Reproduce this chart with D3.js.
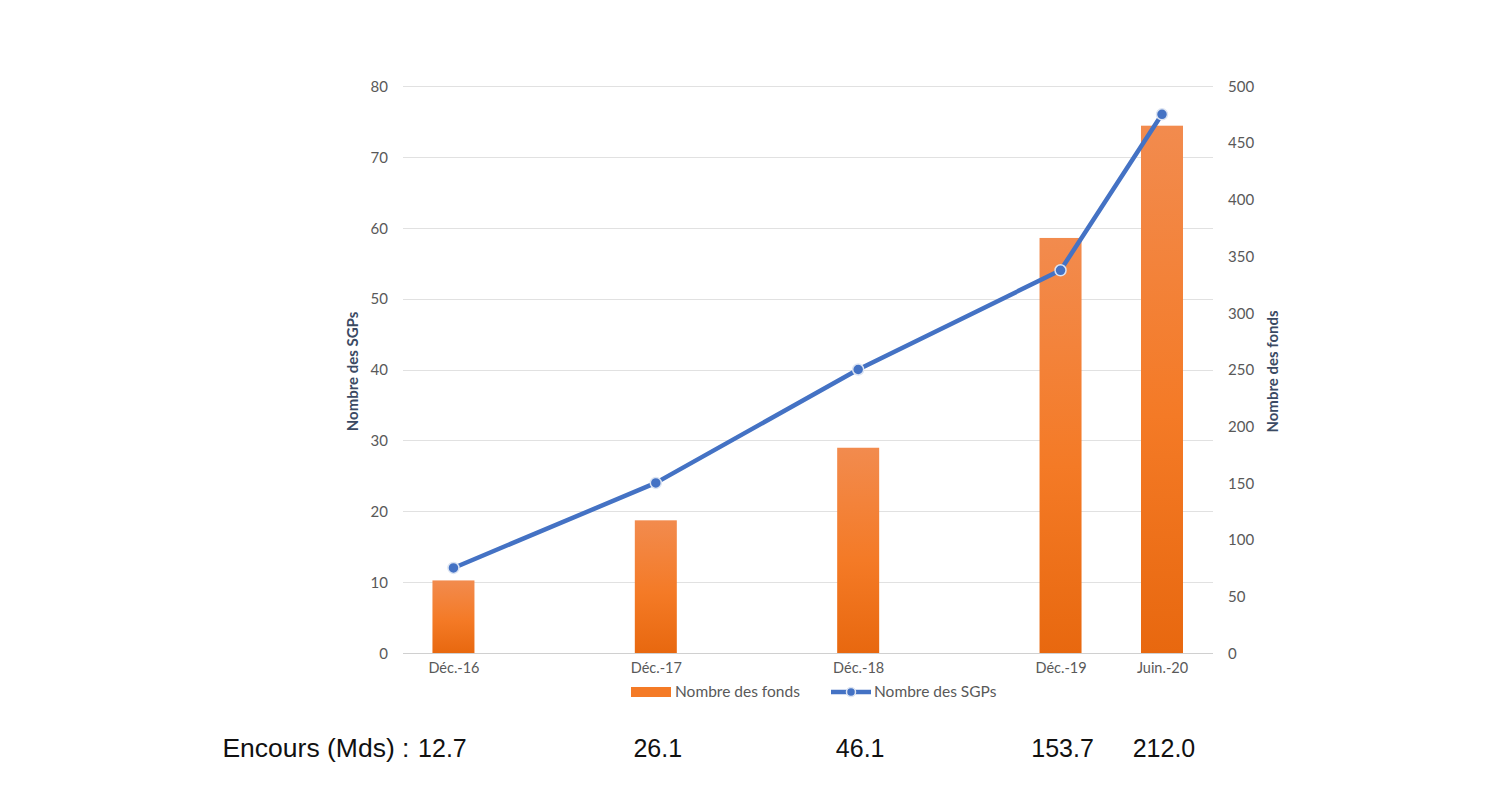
<!DOCTYPE html>
<html>
<head>
<meta charset="utf-8">
<script src="https://cdn.jsdelivr.net/npm/d3@7"></script>
<style>
  html, body { margin: 0; padding: 0; background: #ffffff; }
  svg { display: block; }
</style>
</head>
<body>
<svg id="chart" width="1500" height="800"></svg>
<script>
// ---- data ----
const categories = ["Déc.-16", "Déc.-17", "Déc.-18", "Déc.-19", "Juin.-20"];
const dates = ["2016-12-01", "2017-12-01", "2018-12-01", "2019-12-01", "2020-06-01"];
const nombreFonds = [64, 117, 181, 366, 465];   // bars, right axis
const nombreSGPs = [12, 24, 40, 54, 76];        // line, left axis
const encours = ["12.7", "26.1", "46.1", "153.7", "212.0"];
const leftTicks = [0, 10, 20, 30, 40, 50, 60, 70, 80];
const rightTicks = [0, 50, 100, 150, 200, 250, 300, 350, 400, 450, 500];
const seriesNames = ["Nombre des fonds", "Nombre des SGPs"];
const leftTitle = "Nombre des SGPs";
const rightTitle = "Nombre des fonds";
const encoursLabel = "Encours (Mds) :";

// ---- layout ----
const svg = d3.select("#chart");
const plot = { left: 403, right: 1213, top: 86, bottom: 653 };
const parse = d3.timeParse("%Y-%m-%d");
const dts = dates.map(parse);

const x = d3.scaleTime()
  .domain([d3.timeMonth.offset(d3.min(dts), -3), d3.timeMonth.offset(d3.max(dts), 3)])
  .range([plot.left, plot.right]);
const yL = d3.scaleLinear().domain([0, 80]).range([plot.bottom, plot.top]);
const yR = d3.scaleLinear().domain([0, 500]).range([plot.bottom, plot.top]);

const defs = svg.append("defs");
const grad = defs.append("linearGradient").attr("id", "barGrad")
  .attr("x1", 0).attr("y1", 0).attr("x2", 0).attr("y2", 1);
grad.append("stop").attr("offset", "0%").attr("stop-color", "#F28B4E");
grad.append("stop").attr("offset", "55%").attr("stop-color", "#F47A26");
grad.append("stop").attr("offset", "100%").attr("stop-color", "#E8680F");

const tickFont = "Lato, 'Open Sans', sans-serif";
const tickColor = "#595959";

// gridlines
svg.append("g").selectAll("line").data(leftTicks).join("line")
  .attr("x1", plot.left).attr("x2", plot.right)
  .attr("y1", d => Math.round(yL(d)) + 0.5).attr("y2", d => Math.round(yL(d)) + 0.5)
  .attr("stroke", d => d === 0 ? "#D0D0D0" : "#E1E1E1").attr("stroke-width", 1.2);

// left axis (labels only)
const axL = svg.append("g").attr("transform", `translate(${plot.left - 15},0)`)
  .call(d3.axisLeft(yL).tickValues(leftTicks).tickSize(0).tickPadding(0));
axL.select(".domain").remove();
axL.selectAll("text").attr("font-family", tickFont).attr("font-size", 15)
  .attr("fill", tickColor).attr("dy", "0.35em");

// right axis
const axR = svg.append("g").attr("transform", `translate(${plot.right + 15},0)`)
  .call(d3.axisRight(yR).tickValues(rightTicks).tickSize(0).tickPadding(0));
axR.select(".domain").remove();
axR.selectAll("text").attr("font-family", tickFont).attr("font-size", 15)
  .attr("fill", tickColor).attr("dy", "0.35em");

// axis titles
svg.append("text")
  .attr("transform", `translate(358,${(plot.top + plot.bottom) / 2 + 2}) rotate(-90)`)
  .attr("text-anchor", "middle").attr("font-family", tickFont).attr("font-weight", "bold")
  .attr("font-size", 15).attr("fill", "#3B4A63").text(leftTitle);
svg.append("text")
  .attr("transform", `translate(1278,${(plot.top + plot.bottom) / 2 + 2}) rotate(-90)`)
  .attr("text-anchor", "middle").attr("font-family", tickFont).attr("font-weight", "bold")
  .attr("font-size", 15).attr("fill", "#3B4A63").text(rightTitle);

// bars
const barW = 42;
svg.append("g").selectAll("rect").data(nombreFonds).join("rect")
  .attr("x", (d, i) => x(dts[i]) - barW / 2)
  .attr("width", barW)
  .attr("y", d => yR(d))
  .attr("height", d => yR(0) - yR(d))
  .attr("fill", "url(#barGrad)");

// x category labels
const axX = svg.append("g").attr("transform", `translate(0,${plot.bottom + 20})`)
  .call(d3.axisBottom(x).tickValues(dts).tickFormat((d, i) => categories[i]).tickSize(0).tickPadding(0));
axX.select(".domain").remove();
axX.selectAll("text").attr("font-family", tickFont).attr("font-size", 14.5)
  .attr("fill", tickColor).attr("dy", "0");

// line
const line = d3.line().x((d, i) => x(dts[i])).y(d => yL(d));
svg.append("path").datum(nombreSGPs)
  .attr("d", line).attr("fill", "none")
  .attr("stroke", "#4472C4").attr("stroke-width", 4.5)
  .attr("stroke-linejoin", "round").attr("stroke-linecap", "round");
svg.append("g").selectAll("circle").data(nombreSGPs).join("circle")
  .attr("cx", (d, i) => x(dts[i])).attr("cy", d => yL(d))
  .attr("r", 5.5).attr("fill", "#4472C4")
  .attr("stroke", "#DCE4F2").attr("stroke-width", 1.5);

// legend
const leg = svg.append("g").attr("transform", "translate(0,692)");
leg.append("rect").attr("x", 631).attr("y", -5).attr("width", 40).attr("height", 10).attr("fill", "#F47A26");
leg.append("text").attr("x", 675).attr("y", 5).attr("font-family", tickFont).attr("font-size", 15.5)
  .attr("fill", tickColor).text(seriesNames[0]);
leg.append("line").attr("x1", 831).attr("x2", 871).attr("y1", 0).attr("y2", 0)
  .attr("stroke", "#4472C4").attr("stroke-width", 4.5);
leg.append("circle").attr("cx", 851).attr("cy", 0).attr("r", 4.5).attr("fill", "#4472C4")
  .attr("stroke", "#DCE4F2").attr("stroke-width", 1.5);
leg.append("text").attr("x", 874).attr("y", 5).attr("font-family", tickFont).attr("font-size", 15.5)
  .attr("fill", tickColor).text(seriesNames[1]);

// encours row
const encFont = "'Liberation Sans', Arial, sans-serif";
const encY = 757;
svg.append("g").selectAll("text").data(encours).join("text")
  .attr("x", (d, i) => i === 0 ? x(dts[i]) - 11 : x(dts[i]) + 2)
  .attr("y", encY).attr("text-anchor", "middle")
  .attr("font-family", encFont).attr("font-size", 25).attr("fill", "#111")
  .text(d => d);
svg.append("text")
  .attr("x", x(dts[0]) - 44).attr("y", encY).attr("text-anchor", "end")
  .attr("font-family", encFont).attr("font-size", 26.5).attr("fill", "#111")
  .text(encoursLabel);
</script>
</body>
</html>
